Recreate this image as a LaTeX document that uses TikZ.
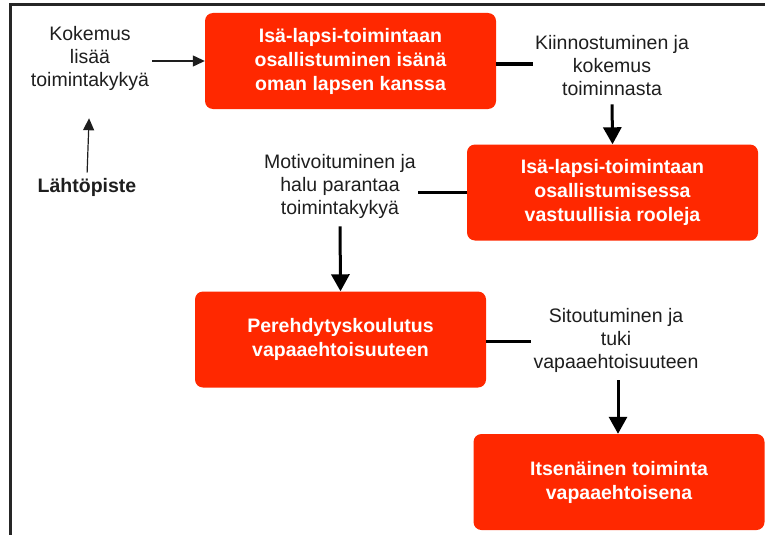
\documentclass[tikz,border=0pt]{standalone}
\usepackage{fontspec}
\setmainfont{Liberation Sans}
\usetikzlibrary{arrows.meta}
\definecolor{boxred}{RGB}{255,40,0}
\definecolor{ink}{RGB}{30,30,30}
\tikzset{
  stepbox/.style={rectangle, rounded corners=8pt, fill=boxred, text=white,
    minimum width=291pt, minimum height=96pt, align=center, inner sep=0pt,
    font=\fontsize{19.5}{24}\selectfont\bfseries},
  lbl/.style={align=center, text=ink, inner sep=2pt,
    font=\fontsize{19.5}{23}\selectfont},
  thinarrow/.style={draw=ink, line width=1.2pt, -{Triangle[width=11pt,length=12pt]}},
  thickarrow/.style={draw=black, line width=3pt, -{Triangle[width=18pt,length=17pt]}},
  thickline/.style={draw=black, line width=3pt},
}
\begin{document}
\begin{tikzpicture}[x=1pt,y=-1pt]
\useasboundingbox (0,0) rectangle (765,535);
\draw[line width=3pt, black!85] (765,5) -- (10,5) -- (10,535);

\node[stepbox] (b1) at (350.5,61) {Isä-lapsi-toimintaan\\osallistuminen isänä\\oman lapsen kanssa};
\node[stepbox] (b2) at (612.5,192.5) {Isä-lapsi-toimintaan\\osallistumisessa\\vastuullisia rooleja};
\node[stepbox] (b3) at (340.5,339.5) {Perehdytyskoulutus\\vapaaehtoisuuteen};
\node[stepbox] (b4) at (619,482) {Itsenäinen toiminta\\vapaaehtoisena};

\node[lbl] (k1) at (90,58) {Kokemus\\lisää\\toimintakykyä};
\node[lbl, font=\fontsize{19.5}{24}\selectfont\bfseries] (lp) at (87,187) {Lähtöpiste};
\node[lbl] (kn) at (612,66) {Kiinnostuminen ja\\kokemus\\toiminnasta};
\node[lbl] (mot) at (340,186) {Motivoituminen ja\\halu parantaa\\toimintakykyä};
\node[lbl] (sit) at (616,340) {Sitoutuminen ja\\tuki\\vapaaehtoisuuteen};

\draw[thinarrow] ([xshift=1pt]k1.east |- b1.west) -- (b1.west);
\draw[thinarrow, shorten <=3pt, shorten >=26pt] (lp.north) -- (k1.south);
\draw[thickline] ([yshift=-3pt]b1.east) -- ([yshift=-3pt]kn.west |- b1.east);
\draw[thickarrow, shorten <=6pt] (kn.south) -- (b2.north);
\draw[thickline] (mot.east |- b2.west) -- (b2.west);
\draw[thickarrow, shorten <=6pt] (mot.south) -- (b3.north);
\draw[thickline] ([yshift=-1.5pt]b3.east) -- ([yshift=-1.5pt]sit.west |- b3.east);
\draw[thickarrow, shorten <=6pt] ([xshift=2pt]sit.south) -- ([xshift=2pt]sit.south |- b4.north);
\end{tikzpicture}
\end{document}
